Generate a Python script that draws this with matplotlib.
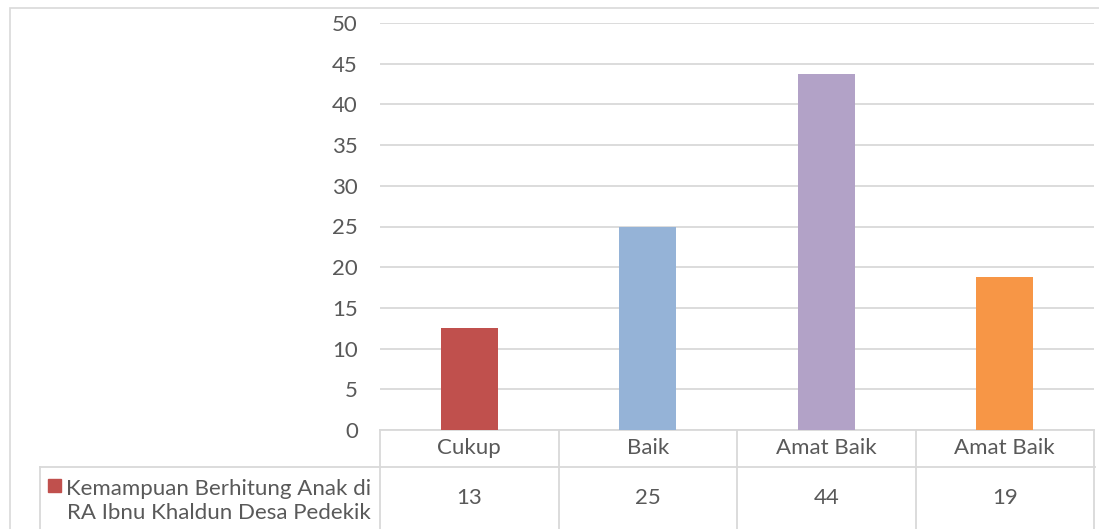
import matplotlib.pyplot as plt
from matplotlib.patches import Rectangle
from matplotlib.lines import Line2D

# Data
categories = ['Cukup', 'Baik', 'Amat Baik', 'Amat Baik']
values = [12.5, 25, 43.75, 18.75]
table_values = ['13', '25', '44', '19']
series_name = 'Kemampuan Berhitung Anak di\nRA Ibnu Khaldun Desa Pedekik'
colors = ['#C0504D', '#95B3D7', '#B2A2C7', '#F79646']
yticks = [0, 5, 10, 15, 20, 25, 30, 35, 40, 45, 50]

plt.rcParams['font.family'] = ['Lato', 'DejaVu Sans']
text_color = '#595959'
line_color = '#D9D9D9'
fs = 16

W, H = 1099, 529
fig = plt.figure(figsize=(W / 100, H / 100), dpi=100)


def fx(px):
    return px / W


def fy(py):
    return 1 - py / H


# outer chart frame
fig.add_artist(Rectangle((fx(10), fy(600)), fx(1100), fy(8) - fy(600),
                         transform=fig.transFigure, fill=False,
                         edgecolor=line_color, linewidth=1.2, clip_on=False))

ax = fig.add_axes([fx(380), fy(430), fx(1094) - fx(380), fy(23) - fy(430)])
x = range(len(categories))
ax.bar(x, values, width=0.32, color=colors, zorder=3)
ax.set_xlim(-0.5, len(categories) - 0.5)
ax.set_ylim(0, 50)
ax.set_yticks(yticks)
ax.set_yticklabels([str(t) for t in yticks], fontsize=fs, color=text_color)
ax.tick_params(axis='y', length=0, pad=16)
ax.set_xticks([])
ax.grid(axis='y', color=line_color, linewidth=1.3, zorder=0)
for s in ax.spines.values():
    s.set_visible(False)

# data table below the axis
trans = ax.get_xaxis_transform()
ax_h = 430 - 23
row1 = -(467 - 430) / ax_h
bottom = -(540 - 430) / ax_h
lw = 1.3

ax.add_line(Line2D([-0.5, 3.5], [0, 0], transform=trans, color=line_color,
                   linewidth=lw, clip_on=False))
for b in [i - 0.5 for i in range(len(categories) + 1)]:
    ax.add_line(Line2D([b, b], [0, bottom], transform=trans, color=line_color,
                       linewidth=lw, clip_on=False))
for i, (cat, val) in enumerate(zip(categories, table_values)):
    ax.text(i, row1 / 2, cat, transform=trans, ha='center', va='center',
            fontsize=fs, color=text_color)
    ax.text(i, -(498 - 430) / ax_h, val, transform=trans, ha='center',
            va='center', fontsize=fs, color=text_color)

# legend row of the table
fig.add_artist(Line2D([fx(40), fx(1095)], [fy(467), fy(467)],
                      transform=fig.transFigure, color=line_color, linewidth=lw))
fig.add_artist(Line2D([fx(40), fx(40)], [fy(467), fy(540)],
                      transform=fig.transFigure, color=line_color, linewidth=lw))
fig.add_artist(Rectangle((fx(48), fy(492)), fx(13), fy(479) - fy(492),
                         transform=fig.transFigure, color=colors[0]))
fig.text(fx(371), fy(501), series_name, ha='right', va='center',
         fontsize=fs, color=text_color, linespacing=1.27, multialignment='right')

fig.savefig('out.png', dpi=100)
